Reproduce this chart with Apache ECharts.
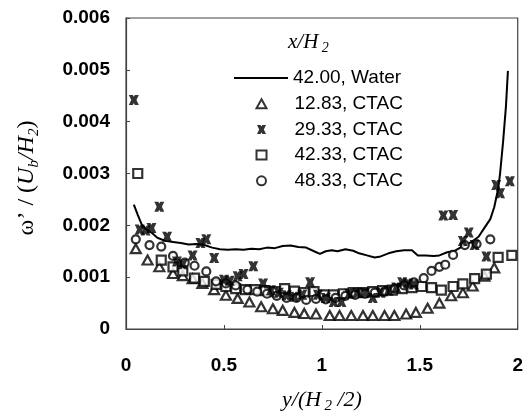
<!DOCTYPE html>
<html>
<head>
<meta charset="utf-8">
<script src="https://cdn.jsdelivr.net/npm/echarts@6/dist/echarts.min.js"></script>
<style>
html,body{margin:0;padding:0;background:#fff;}
#chart{width:526px;height:415px;}
</style>
</head>
<body>
<div id="chart"></div>
<script>
// ---- data (x = y/(H2/2), y = omega' / (Ub/H2)) ----
var seriesNames = ['42.00, Water', '12.83, CTAC', '29.33, CTAC', '42.33, CTAC', '48.33, CTAC'];
var xTicks = [0, 0.5, 1, 1.5, 2];
var yTicks = [0, 0.001, 0.002, 0.003, 0.004, 0.005, 0.006];

var waterX = [0.04,0.06,0.08,0.10,0.13,0.16,0.20,0.24,0.28,0.32,0.36,0.40,0.44,0.48,0.52,0.56,0.60,0.64,0.68,0.72,0.76,0.80,0.84,0.88,0.92,0.96,0.99,1.02,1.05,1.08,1.12,1.16,1.19,1.23,1.27,1.30,1.34,1.38,1.42,1.46,1.49,1.53,1.57,1.60,1.64,1.68,1.72,1.76,1.80,1.83,1.86,1.88,1.90,1.91,1.925,1.94,1.95];
var waterY = [0.00240,0.00220,0.00202,0.00193,0.00186,0.00176,0.00170,0.00168,0.00166,0.00163,0.00164,0.00162,0.00157,0.00154,0.00153,0.00154,0.00153,0.00155,0.00154,0.00157,0.00156,0.00160,0.00161,0.00158,0.00157,0.00150,0.00145,0.00150,0.00152,0.00150,0.00154,0.00151,0.00146,0.00142,0.00138,0.00140,0.00146,0.00150,0.00152,0.00152,0.00142,0.00142,0.00141,0.00142,0.00148,0.00151,0.00160,0.00167,0.00178,0.00195,0.00212,0.00235,0.00270,0.00300,0.00360,0.00430,0.00498];

var triX = [0.05,0.11,0.17,0.24,0.29,0.34,0.39,0.45,0.51,0.57,0.63,0.69,0.75,0.80,0.86,0.91,0.97,1.04,1.09,1.15,1.21,1.26,1.32,1.37,1.43,1.48,1.54,1.60,1.66,1.72,1.77,1.83,1.88];
var triY = [0.00155,0.00133,0.00120,0.00107,0.00103,0.00097,0.00088,0.00076,0.00065,0.00059,0.00052,0.00043,0.00039,0.00036,0.00032,0.00030,0.00029,0.00026,0.00026,0.00026,0.00026,0.00026,0.00026,0.00026,0.00029,0.00032,0.00040,0.00050,0.00064,0.00070,0.00083,0.00102,0.00118];

var crossX = [0.04,0.07,0.10,0.13,0.17,0.21,0.26,0.29,0.34,0.38,0.41,0.45,0.50,0.53,0.57,0.60,0.65,0.70,0.74,0.78,0.82,0.86,0.90,0.94,0.98,1.02,1.06,1.10,1.14,1.18,1.22,1.26,1.30,1.34,1.38,1.41,1.44,1.47,1.62,1.67,1.72,1.75,1.78,1.84,1.89,1.91,1.96];
var crossY = [0.00442,0.00192,0.00190,0.00195,0.00236,0.00178,0.00130,0.00125,0.00142,0.00166,0.00173,0.00137,0.00095,0.00093,0.00102,0.00106,0.00121,0.00088,0.00075,0.00070,0.00065,0.00062,0.00066,0.00090,0.00066,0.00060,0.00052,0.00052,0.00068,0.00070,0.00070,0.00060,0.00070,0.00074,0.00080,0.00090,0.00088,0.00086,0.00219,0.00220,0.00170,0.00186,0.00162,0.00140,0.00278,0.00262,0.00285];

var sqX = [0.06,0.18,0.24,0.29,0.35,0.40,0.46,0.51,0.56,0.61,0.66,0.71,0.76,0.81,0.86,0.91,0.96,1.01,1.06,1.11,1.16,1.21,1.26,1.31,1.36,1.41,1.46,1.51,1.56,1.61,1.67,1.72,1.78,1.84,1.90,1.97];
var sqY = [0.00300,0.00133,0.00120,0.00112,0.00098,0.00092,0.00086,0.00082,0.00078,0.00076,0.00076,0.00074,0.00072,0.00078,0.00073,0.00070,0.00072,0.00066,0.00066,0.00068,0.00070,0.00070,0.00072,0.00074,0.00075,0.00078,0.00080,0.00082,0.00080,0.00075,0.00082,0.00087,0.00097,0.00106,0.00138,0.00142];

var circX = [0.05,0.12,0.18,0.24,0.30,0.35,0.41,0.46,0.51,0.56,0.62,0.67,0.72,0.77,0.82,0.87,0.92,0.97,1.02,1.07,1.12,1.17,1.22,1.27,1.32,1.37,1.42,1.47,1.52,1.56,1.60,1.63,1.67,1.73,1.79,1.86];
var circY = [0.00173,0.00162,0.00159,0.00141,0.00128,0.00122,0.00111,0.00092,0.00088,0.00084,0.00076,0.00072,0.00068,0.00064,0.00060,0.00060,0.00056,0.00058,0.00057,0.00060,0.00064,0.00066,0.00068,0.00070,0.00072,0.00078,0.00084,0.00090,0.00098,0.00112,0.00120,0.00124,0.00143,0.00162,0.00164,0.00173];

function pairs(xs, ys){ return xs.map(function(x,i){ return [x, ys[i]]; }); }

var crossPath = 'path://M0,0 L4,0 L5,1.8 L6,0 L10,0 L7.6,5 L10,10 L6,10 L5,8.2 L4,10 L0,10 L2.4,5 Z';
var hollow = {color:'#fff', borderColor:'#000', borderWidth:2.2};

var chart = echarts.init(document.getElementById('chart'), null, {renderer:'canvas'});
var sansFont = 'Liberation Sans, Arial, sans-serif';
var serifFont = 'Liberation Serif, Times New Roman, serif';

chart.setOption({
  animation:false,
  backgroundColor:'#fff',
  grid:{left:126, right:6, top:18, bottom:86, show:true, borderColor:'#444', borderWidth:1.2, backgroundColor:'transparent'},
  xAxis:{
    type:'value', min:xTicks[0], max:xTicks[xTicks.length-1], interval:0.5,
    axisLine:{show:true, onZero:false, lineStyle:{color:'#444', width:1.2}},
    axisTick:{show:true, inside:true, length:4, lineStyle:{color:'#444'}},
    splitLine:{show:false},
    axisLabel:{color:'#000', fontSize:19, fontWeight:'bold', fontFamily:sansFont, margin:27}
  },
  yAxis:{
    type:'value', min:yTicks[0], max:yTicks[yTicks.length-1], interval:0.001,
    axisLine:{show:true, onZero:false, lineStyle:{color:'#444', width:1.2}},
    axisTick:{show:true, inside:true, length:4, lineStyle:{color:'#444'}},
    splitLine:{show:false},
    axisLabel:{color:'#000', fontSize:19, fontWeight:'bold', fontFamily:sansFont, margin:16,
      formatter:function(v){ return v===0 ? '0' : v.toFixed(3); }}
  },
  legend:[
    {
      orient:'vertical', left:229, top:63, itemWidth:54, itemHeight:2,
      textStyle:{color:'#000', fontSize:19, fontFamily:sansFont, lineHeight:20},
      data:[{name:seriesNames[0], icon:'rect', itemStyle:{color:'#000'}}]
    },
    {
      orient:'vertical', left:250.5, top:88.7, itemWidth:10, itemHeight:9, itemGap:5.7,
      textStyle:{color:'#000', fontSize:19, fontFamily:sansFont, lineHeight:20, padding:[0,0,0,23]},
      data:seriesNames.slice(1)
    }
  ],
  series:[
    {name:seriesNames[0], type:'line', data:pairs(waterX, waterY), symbol:'none', showSymbol:false,
     lineStyle:{color:'#000', width:2}, itemStyle:{color:'#000'}, z:2},
    {name:seriesNames[1], type:'scatter', data:pairs(triX, triY), symbol:'triangle', symbolSize:[10,9], itemStyle:hollow, z:3},
    {name:seriesNames[2], type:'scatter', data:pairs(crossX, crossY), symbol:crossPath, symbolSize:10, itemStyle:{color:'#000'}, z:4},
    {name:seriesNames[3], type:'scatter', data:pairs(sqX, sqY), symbol:'rect', symbolSize:9, itemStyle:hollow, z:3},
    {name:seriesNames[4], type:'scatter', data:pairs(circX, circY), symbol:'circle', symbolSize:8, itemStyle:hollow, z:3}
  ],
  graphic:[
    {type:'text', x:288, y:42, style:{
      text:'{i|x/H} {s|2}', align:'left', textAlign:'left', verticalAlign:'middle', textVerticalAlign:'middle',
      rich:{ i:{fontFamily:serifFont, fontStyle:'italic', fontSize:21, lineHeight:26, verticalAlign:'middle', fill:'#000', color:'#000'},
             s:{fontFamily:serifFont, fontStyle:'italic', fontSize:14, lineHeight:14, verticalAlign:'bottom', fill:'#000', color:'#000'} }
    }},
    {type:'text', x:322, y:400, style:{
      text:'{i|y/(H} {s|2}{i| /2)}', align:'center', textAlign:'center', verticalAlign:'middle', textVerticalAlign:'middle',
      rich:{ i:{fontFamily:serifFont, fontStyle:'italic', fontSize:22, lineHeight:28, verticalAlign:'middle', fill:'#000', color:'#000'},
             s:{fontFamily:serifFont, fontStyle:'italic', fontSize:15, lineHeight:15, verticalAlign:'bottom', fill:'#000', color:'#000'} }
    }},
    {type:'text', x:27, y:178, rotation:Math.PI/2, style:{
      text:'{n|ω’ / (}{i|U}{s|b}{i|/H}{s|2}{n|)}', align:'center', textAlign:'center', verticalAlign:'middle', textVerticalAlign:'middle',
      rich:{ n:{fontFamily:serifFont, fontSize:24, lineHeight:30, verticalAlign:'middle', fill:'#000', color:'#000'},
             i:{fontFamily:serifFont, fontStyle:'italic', fontSize:24, lineHeight:30, verticalAlign:'middle', fill:'#000', color:'#000'},
             s:{fontFamily:serifFont, fontStyle:'italic', fontSize:15, lineHeight:16, verticalAlign:'bottom', fill:'#000', color:'#000'} }
    }}
  ]
});
</script>
</body>
</html>
